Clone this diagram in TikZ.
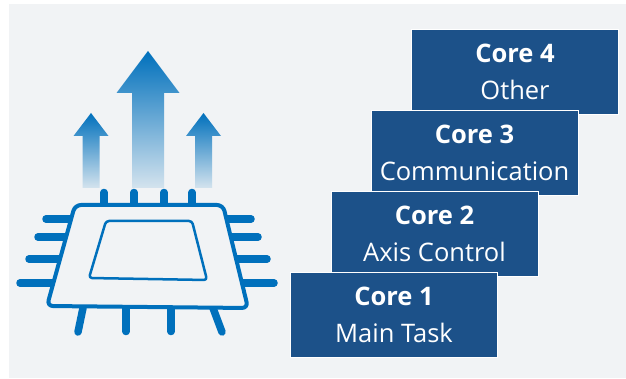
\documentclass[tikz,border=0pt]{standalone}
\usepackage{fontspec}
\setmainfont{Open Sans}
\usetikzlibrary{positioning,calc}
\definecolor{panelgray}{HTML}{F1F3F5}
\definecolor{coreblue}{HTML}{1C5189}
\definecolor{chipblue}{HTML}{0070BC}
\begin{document}
\begin{tikzpicture}
  [
  x=1pt, y=-1pt,
  font=\fontsize{25.5}{37}\selectfont, line width=1pt,
  core/.style={rectangle, minimum height=85pt, minimum width=207pt, inner sep=0pt, draw=white, line width=0.7pt, fill=coreblue, text=white, align=center},
  chippin/.style={draw=chipblue, line width=7.5pt, line cap=round},
  chip/.style={draw=chipblue, fill=panelgray, line join=round},
  uparrow/.style={shading=axis, top color=chipblue, bottom color=chipblue!12!panelgray, draw=none}
  ]

\useasboundingbox (0,0) rectangle (626,379);
\fill[panelgray] (9,4) rectangle (626,378);

% rising arrows
\foreach \c/\t/\b/\hw/\sw in {91/113/136/17.5/8.5, 148/51/93/31.5/16, 203.5/113/136/17.5/8.5} {
  \shade[uparrow] (\c,\t) -- (\c+\hw,\b) -- (\c+\sw,\b) -- (\c+\sw,188)
    -- (\c-\sw,188) -- (\c-\sw,\b) -- (\c-\hw,\b) -- cycle;
}

% pins
\foreach \x in {104,134,164,192} {
  \draw[chippin] (\x,205) -- (\x,192.5);
}
\foreach \a/\y/\b in {72/219/46, 66/237/38, 60/259/29, 53/283/20} {
  \draw[chippin] (\a,\y) -- (\b,\y);
}
\foreach \a/\y/\b in {225/219/251, 230/237/258, 236/259/267, 243/283/274} {
  \draw[chippin] (\a,\y) -- (\b,\y);
}
\draw[chippin] (83,308) -- (78,332);
\draw[chippin] (126,308) -- (126,331.5);
\draw[chippin] (171,308) -- (171,331.5);
\draw[chippin] (213,308) -- (222,332);

% chip outline
\draw[chip, line width=4pt, rounded corners=6pt] (75,205) -- (223,205) -- (248,308) -- (47,306) -- cycle;
\draw[chip, line width=2.5pt, rounded corners=3pt] (106,221) -- (192,221) -- (207,280) -- (89,278) -- cycle;

% cores, top one is number 1
\node[core] (core4) at (515,71.5) {\textbf{Core 4}\\Other};
\node[core] (core3) at (474.5,152.5) {\textbf{Core 3}\\Communication};
\node[core] (core2) at (434.5,233.5) {\textbf{Core 2}\\Axis Control};
\node[core] (core1) at (394,314.5) {\textbf{Core 1}\\Main Task};

\end{tikzpicture}
\end{document}
